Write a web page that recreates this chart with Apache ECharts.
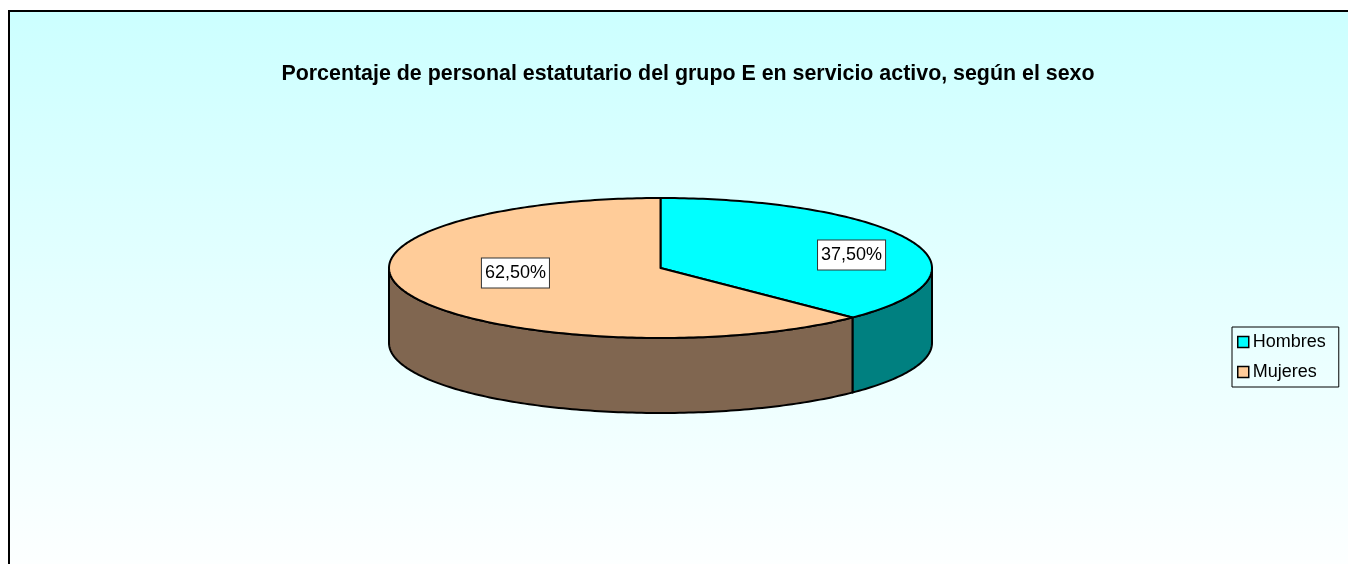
<!DOCTYPE html>
<html lang="es">
<head>
  <meta charset="UTF-8">
  <title>Personal estatutario grupo E</title>
  <script src="https://cdn.jsdelivr.net/npm/echarts@6/dist/echarts.min.js"></script>
  <style>
    html, body { margin: 0; padding: 0; background: #fff; }
  </style>
</head>
<body>
  <div id="chart" style="width: 1348px; height: 564px;"></div>

  <script>
    // datos
    const categories = ['Hombres', 'Mujeres']
    const values = [37.5, 62.5]
    const topColors = ['#00FFFF', '#FFCC99']
    const sideColors = ['#008080', '#806650']

    // geometria del "pastel 3D"
    const cx = 660.5, cy = 268
    const rx = 271.5, ry = 70
    const depth = 75
    const lblFx = 0.67, lblFy = 0.336, lblDx = 23, lblDy = -4

    const total = values.reduce((a, b) => a + b, 0)

    function pt(t, dz) {
      return [cx + rx * Math.sin(t), cy - ry * Math.cos(t) + dz]
    }
    function arc(a, b, dz) {
      const pts = []
      const n = Math.max(2, Math.ceil((b - a) / (Math.PI / 180)))
      for (let i = 0; i <= n; i++) pts.push(pt(a + (b - a) * i / n, dz))
      return pts
    }
    function fmt(v) {
      return (v / total * 100).toFixed(2).replace('.', ',') + '%'
    }

    function renderSlice(idx) {
      return function (params, api) {
        let before = 0
        for (let k = 0; k < idx; k++) before += values[k]
        const v = api.value(0)
        const a0 = before / total * 2 * Math.PI
        const a1 = (before + v) / total * 2 * Math.PI
        const children = []

        // pared lateral visible (mitad delantera)
        const s0 = Math.max(a0, Math.PI / 2), s1 = Math.min(a1, Math.PI * 1.5)
        if (s1 > s0) {
          const pts = arc(s0, s1, 0).concat(arc(s0, s1, depth).reverse())
          children.push({
            type: 'polygon', z2: 1,
            shape: { points: pts },
            style: { fill: sideColors[idx], stroke: '#000', lineWidth: 2, lineJoin: 'round' }
          })
        }
        // cara superior
        children.push({
          type: 'polygon', z2: 2,
          shape: { points: [[cx, cy]].concat(arc(a0, a1, 0)) },
          style: { fill: topColors[idx], stroke: '#000', lineWidth: 2, lineJoin: 'round' }
        })
        // etiqueta
        const mid = (a0 + a1) / 2
        children.push({
          type: 'text', z2: 3,
          x: cx + rx * Math.sin(mid) * lblFx + lblDx,
          y: cy - ry * Math.cos(mid) * lblFy + lblDy,
          style: {
            text: fmt(v),
            fill: '#000',
            font: '18px Arial, "Liberation Sans", sans-serif',
            align: 'center', verticalAlign: 'middle',
            backgroundColor: '#fff',
            borderColor: '#333', borderWidth: 1,
            padding: [6, 3, 5, 3]
          }
        })
        return { type: 'group', children: children }
      }
    }

    const chart = echarts.init(document.getElementById('chart'), null, { renderer: 'canvas' })
    chart.setOption({
      animation: false,
      graphic: [{
        type: 'rect', z: -10, silent: true,
        shape: { x: 9, y: 11, width: 1400, height: 580 },
        style: {
          fill: new echarts.graphic.LinearGradient(0, 0, 0, 1, [
            { offset: 0, color: '#CCFFFF' },
            { offset: 1, color: '#FFFFFF' }
          ]),
          stroke: '#000', lineWidth: 2
        }
      }],
      title: {
        text: 'Porcentaje de personal estatutario del grupo E en servicio activo, según el sexo',
        left: 683, top: 59, textAlign: 'center',
        textStyle: { fontFamily: 'Arial, "Liberation Sans", sans-serif', fontSize: 21.4, fontWeight: 'bold', color: '#000' }
      },
      legend: {
        orient: 'vertical',
        left: 1232, top: 327,
        data: categories,
        icon: 'rect',
        itemWidth: 11, itemHeight: 11,
        itemGap: 12,
        padding: [6, 13, 6, 5],
        borderColor: '#000', borderWidth: 1,
        itemStyle: { borderColor: '#000', borderWidth: 1.5 },
        textStyle: { fontFamily: 'Arial, "Liberation Sans", sans-serif', fontSize: 18, color: '#000', padding: [0, 0, 0, -1] }
      },
      series: categories.map((name, i) => ({
        name: name,
        type: 'custom',
        coordinateSystem: 'none',
        itemStyle: { color: topColors[i] },
        data: [[values[i]]],
        renderItem: renderSlice(i)
      }))
    })
  </script>
</body>
</html>
